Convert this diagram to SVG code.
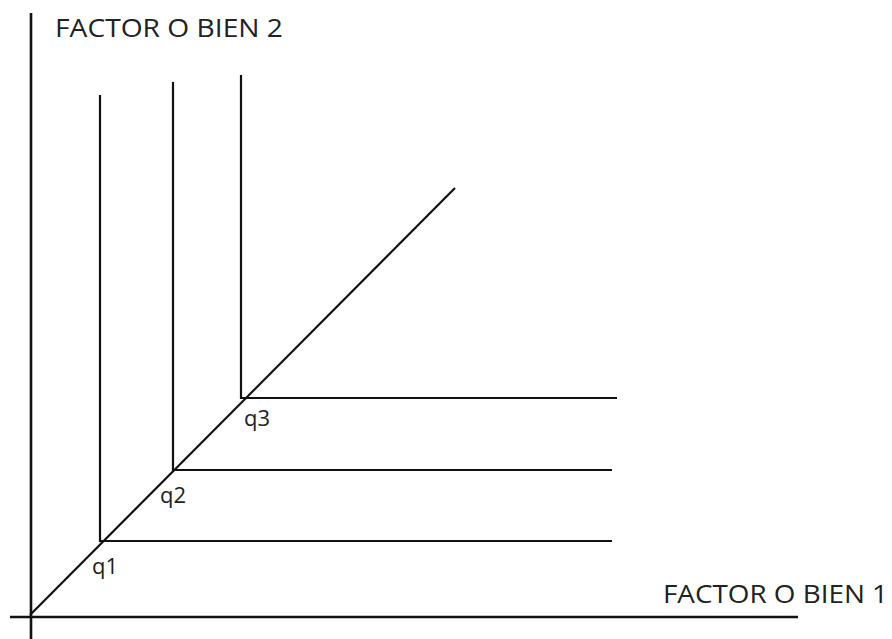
<svg xmlns="http://www.w3.org/2000/svg" width="892" height="639" viewBox="0 0 892 639">
<style>
.ln{stroke:#111;stroke-width:2.2;fill:none;stroke-linecap:butt}
.ax{stroke:#111;stroke-width:2.6;fill:none}
.t{font-family:"Open Sans","Noto Sans",sans-serif;font-size:25px;fill:#222}
.q{font-family:"Open Sans","Noto Sans",sans-serif;font-size:22px;fill:#222}
</style>
<rect width="892" height="639" fill="#fff"/>
<g id="axes">
<line class="ax" x1="31" y1="13" x2="31" y2="639"/>
<line class="ax" x1="10" y1="617" x2="798" y2="617"/>
</g>
<g id="connectors">
<line class="ln" x1="30" y1="615" x2="455" y2="188"/>
<line class="ln" x1="100" y1="95" x2="100" y2="542"/>
<line class="ln" x1="100" y1="541" x2="612" y2="541"/>
<line class="ln" x1="173" y1="82" x2="173" y2="471"/>
<line class="ln" x1="173" y1="470" x2="612" y2="470"/>
<line class="ln" x1="241" y1="75" x2="241" y2="399"/>
<line class="ln" x1="241" y1="398" x2="617" y2="398"/>
</g>
<g id="label-y"><text class="t" x="55" y="37" textLength="228" lengthAdjust="spacingAndGlyphs">FACTOR O BIEN 2</text></g>
<g id="label-x"><text class="t" x="663" y="603" textLength="225" lengthAdjust="spacingAndGlyphs">FACTOR O BIEN 1</text></g>
<g id="q1"><text class="q" x="92" y="574">q1</text></g>
<g id="q2"><text class="q" x="160" y="503">q2</text></g>
<g id="q3"><text class="q" x="244" y="426">q3</text></g>
</svg>
